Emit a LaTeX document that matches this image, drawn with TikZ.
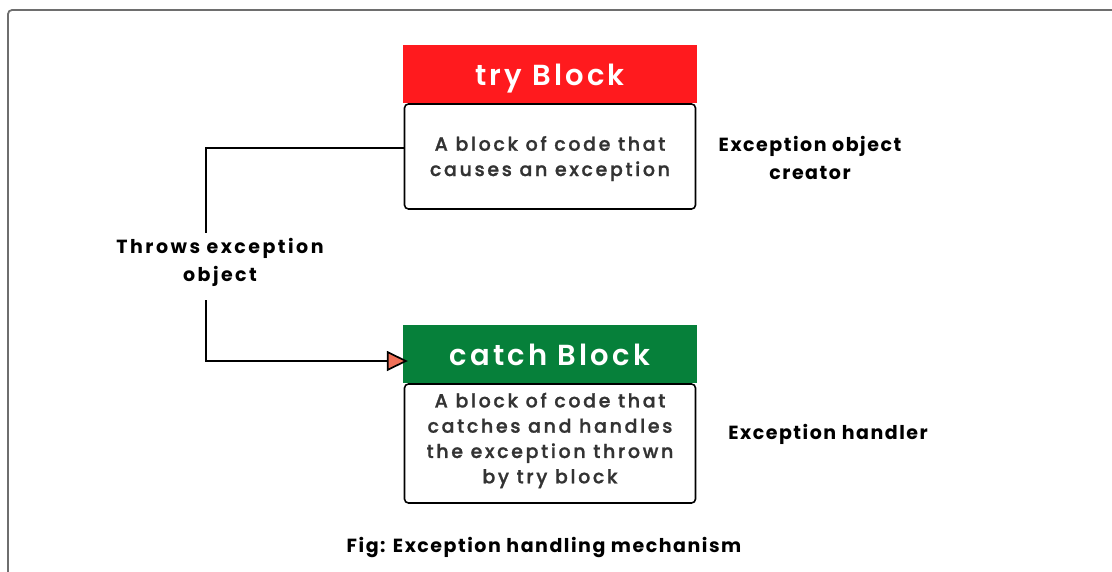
\documentclass[tikz,border=0pt]{standalone}
\usepackage{fontspec}
\setmainfont{Poppins}
\newfontfamily\boxfont{Poppins Medium}[LetterSpace=14, FakeBold=1.2]
\newfontfamily\headfont{Poppins SemiBold}[LetterSpace=11]
\newfontfamily\labelfont{Poppins}[LetterSpace=8]
\newfontfamily\throwfont{Poppins}[LetterSpace=13]
\usetikzlibrary{arrows.meta}
\definecolor{tryred}{RGB}{255,26,30}
\definecolor{catchgreen}{RGB}{6,128,58}
\definecolor{tipfill}{RGB}{240,112,88}
\definecolor{framegray}{RGB}{110,110,110}
\tikzset{
  header/.style={minimum width=294pt, minimum height=58pt, inner sep=0pt,
    text height=22pt, text depth=0pt,
    text=white, font=\headfont\fontsize{29}{30}\selectfont},
  bodybox/.style={draw=black, line width=1.6pt, rounded corners=4pt, fill=white,
    minimum width=291pt, inner sep=0pt, align=center,
    font=\boxfont\fontsize{19}{25.3}\selectfont, text=black!80},
  label/.style={align=center, font=\labelfont\bfseries\fontsize{19}{28}\selectfont},
  conn/.style={line width=1.3pt, black},
  tip/.style={-{Triangle[length=21pt,width=20pt,fill=tipfill,line width=1.7pt]}}
}
\begin{document}
\begin{tikzpicture}[x=1pt,y=-1pt]
\useasboundingbox (0,0) rectangle (1112,571);
% outer frame, cut by the page edges
\draw[framegray, line width=1.8pt, rounded corners=4pt] (8,580) -- (8,10) -- (1125,10);

% try block
\node[header, fill=tryred] (tryh) at (550,74) {try Block};
\node[bodybox, minimum height=105pt, text height=44pt] (tryb) at (550,156.5)
  {A block of code that\\causes an exception};

% catch block
\node[header, fill=catchgreen] (catchh) at (550,354) {catch Block};
\node[bodybox, minimum height=119pt, text depth=11pt] (catchb) at (550,443.5)
  {A block of code that\\catches and handles\\the exception thrown\\by try block};

% side labels
\node[label, font=\throwfont\bfseries\fontsize{19}{28}\selectfont] (throw) at (220,262) {Throws exception\\object};
\node[label] (creator) at (810,158) {Exception object\\creator};
\node[label] (handler) at (828,434) {Exception handler};
\node[label] (caption) at (544,547) {Fig: Exception handling mechanism};

% connector from try to catch, broken by its label
\coordinate (c1) at (206,148);
\coordinate (c2) at (206,233);
\coordinate (c3) at (206,300);
\coordinate (c4) at (206,361);
\draw[conn] (tryb.west |- c1) -- (c1) -- (c2);
\draw[conn, tip] (c3) -- (c4) -- ([xshift=5pt]catchh.west |- c4);
\end{tikzpicture}
\end{document}
